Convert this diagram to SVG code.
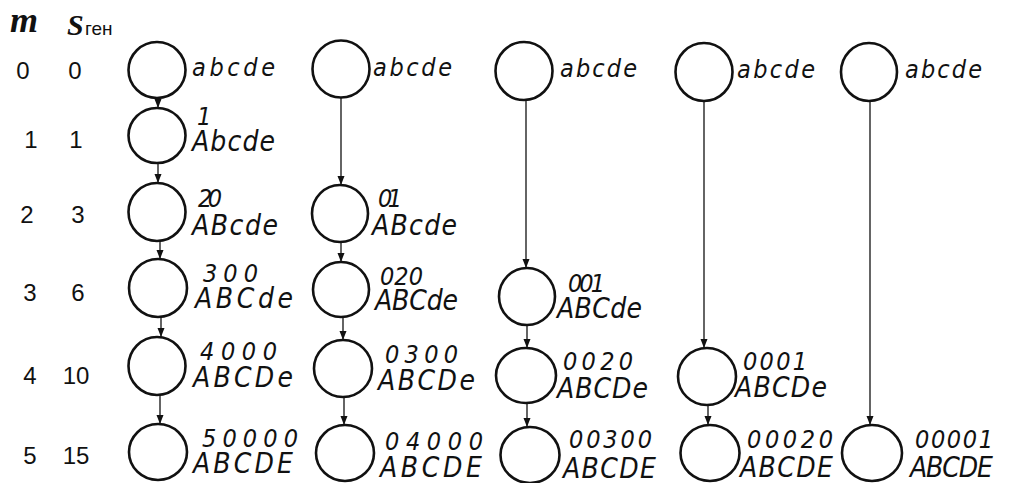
<svg xmlns="http://www.w3.org/2000/svg" width="1009" height="483" viewBox="0 0 1009 483">
<style>
.bg{fill:#fff}
.n{fill:none;stroke:#111;stroke-width:2.6}
.c{stroke:#111;stroke-width:1.3;fill:none}
.lbl{font-family:"Liberation Sans",Arial,sans-serif;font-size:24px;fill:#111;text-anchor:middle}
.t{font-family:"DejaVu Sans Condensed","Liberation Sans Narrow","Liberation Sans",sans-serif;font-style:italic;fill:#111}
.lo{font-size:25px}
.up{font-size:28px}
.dg{font-size:25px}
</style>
<defs>
<marker id="ah" markerUnits="userSpaceOnUse" markerWidth="10" markerHeight="8" refX="9" refY="3.5" orient="auto">
<path d="M0,0 L9,3.5 L0,7 z" fill="#111"/>
</marker>
</defs>
<rect class="bg" x="0" y="0" width="1009" height="483"/>
<g id="header">
<text x="10" y="32" font-family="Liberation Serif,serif" font-weight="bold" font-style="italic" font-size="36" fill="#111">m</text>
<text x="67" y="35" font-family="Liberation Serif,serif" font-weight="bold" font-style="italic" font-size="30" fill="#111">S</text>
<text x="85" y="35" font-family="Liberation Sans,sans-serif" font-size="19" fill="#111">ген</text>
</g>
<g id="rowlabels">
<text class="lbl" x="23" y="79">0</text><text class="lbl" x="75" y="79">0</text>
<text class="lbl" x="31" y="148">1</text><text class="lbl" x="76" y="148">1</text>
<text class="lbl" x="27" y="223">2</text><text class="lbl" x="78" y="223">3</text>
<text class="lbl" x="30" y="301">3</text><text class="lbl" x="78" y="301">6</text>
<text class="lbl" x="30" y="384">4</text><text class="lbl" x="76" y="384">10</text>
<text class="lbl" x="30" y="464">5</text><text class="lbl" x="76" y="464">15</text>
</g>
<g id="connectors">
<line class="c" x1="158" y1="98" x2="158" y2="108" marker-end="url(#ah)"/>
<line class="c" x1="158" y1="163" x2="158" y2="183" marker-end="url(#ah)"/>
<line class="c" x1="160" y1="241" x2="160" y2="259" marker-end="url(#ah)"/>
<line class="c" x1="161" y1="317" x2="161" y2="337" marker-end="url(#ah)"/>
<line class="c" x1="160" y1="395" x2="160" y2="424" marker-end="url(#ah)"/>
<line class="c" x1="341" y1="98" x2="341" y2="185" marker-end="url(#ah)"/>
<line class="c" x1="341" y1="242" x2="341" y2="262" marker-end="url(#ah)"/>
<line class="c" x1="343" y1="317" x2="343" y2="340" marker-end="url(#ah)"/>
<line class="c" x1="344" y1="397" x2="344" y2="425" marker-end="url(#ah)"/>
<line class="c" x1="526" y1="100" x2="526" y2="268" marker-end="url(#ah)"/>
<line class="c" x1="527" y1="325" x2="527" y2="348" marker-end="url(#ah)"/>
<line class="c" x1="527" y1="403" x2="527" y2="427" marker-end="url(#ah)"/>
<line class="c" x1="704" y1="101" x2="704" y2="348" marker-end="url(#ah)"/>
<line class="c" x1="708" y1="405" x2="708" y2="425" marker-end="url(#ah)"/>
<line class="c" x1="870" y1="101" x2="870" y2="425" marker-end="url(#ah)"/>
</g>
<g id="n_c1r0"><ellipse class="n" cx="157" cy="70" rx="28.5" ry="28"/><text class="t lo" x="192" y="76" textLength="83" lengthAdjust="spacing">abcde</text></g>
<g id="n_c2r0"><ellipse class="n" cx="341" cy="69" rx="28.5" ry="28.5"/><text class="t lo" x="373" y="76" textLength="79" lengthAdjust="spacing">abcde</text></g>
<g id="n_c3r0"><ellipse class="n" cx="524" cy="71" rx="28.5" ry="29"/><text class="t lo" x="560" y="77" textLength="77" lengthAdjust="spacing">abcde</text></g>
<g id="n_c4r0"><ellipse class="n" cx="704" cy="72" rx="28.5" ry="29"/><text class="t lo" x="737" y="78" textLength="78" lengthAdjust="spacing">abcde</text></g>
<g id="n_c5r0"><ellipse class="n" cx="869" cy="72" rx="28" ry="29"/><text class="t lo" x="905" y="78" textLength="77" lengthAdjust="spacing">abcde</text></g>
<g id="n_c1r1"><ellipse class="n" cx="157" cy="135.5" rx="28.5" ry="27.5"/><text class="t"><tspan class="dg" x="197" y="125">1</tspan><tspan class="up" x="192" y="151" textLength="83" lengthAdjust="spacing">Abcde</tspan></text></g>
<g id="n_c1r2"><ellipse class="n" cx="157" cy="212" rx="28.5" ry="29"/><text class="t"><tspan class="dg" x="198" y="207" textLength="24" lengthAdjust="spacing">20</tspan><tspan class="up" x="192" y="235" textLength="86" lengthAdjust="spacing">ABcde</tspan></text></g>
<g id="n_c2r2"><ellipse class="n" cx="340" cy="213.5" rx="28" ry="28.5"/><text class="t"><tspan class="dg" x="378" y="207" textLength="24" lengthAdjust="spacing">01</tspan><tspan class="up" x="372" y="235" textLength="85" lengthAdjust="spacing">ABcde</tspan></text></g>
<g id="n_c1r3"><ellipse class="n" cx="158" cy="288" rx="29" ry="29"/><text class="t"><tspan class="dg" x="203" y="282" textLength="55" lengthAdjust="spacing">300</tspan><tspan class="up" x="195" y="308" textLength="98" lengthAdjust="spacing">ABCde</tspan></text></g>
<g id="n_c2r3"><ellipse class="n" cx="341" cy="289.5" rx="28" ry="27.5"/><text class="t"><tspan class="dg" x="380" y="285" textLength="43" lengthAdjust="spacing">020</tspan><tspan class="up" x="375" y="310" textLength="83" lengthAdjust="spacing">ABCde</tspan></text></g>
<g id="n_c3r3"><ellipse class="n" cx="527" cy="296.5" rx="28" ry="28.5"/><text class="t"><tspan class="dg" x="568" y="292" textLength="37" lengthAdjust="spacing">001</tspan><tspan class="up" x="557" y="318" textLength="85" lengthAdjust="spacing">ABCde</tspan></text></g>
<g id="n_c1r4"><ellipse class="n" cx="157" cy="366" rx="28.5" ry="29"/><text class="t"><tspan class="dg" x="200" y="360" textLength="77" lengthAdjust="spacing">4000</tspan><tspan class="up" x="193" y="387" textLength="100" lengthAdjust="spacing">ABCDe</tspan></text></g>
<g id="n_c2r4"><ellipse class="n" cx="343" cy="368.5" rx="29" ry="28.5"/><text class="t"><tspan class="dg" x="385" y="363" textLength="73" lengthAdjust="spacing">0300</tspan><tspan class="up" x="378" y="390" textLength="97" lengthAdjust="spacing">ABCDe</tspan></text></g>
<g id="n_c3r4"><ellipse class="n" cx="526" cy="375.5" rx="30" ry="27.5"/><text class="t"><tspan class="dg" x="563" y="370" textLength="70" lengthAdjust="spacing">0020</tspan><tspan class="up" x="557" y="398" textLength="91" lengthAdjust="spacing">ABCDe</tspan></text></g>
<g id="n_c4r4"><ellipse class="n" cx="707" cy="376.5" rx="29" ry="28.5"/><text class="t"><tspan class="dg" x="743" y="370" textLength="64" lengthAdjust="spacing">0001</tspan><tspan class="up" x="735" y="397" textLength="92" lengthAdjust="spacing">ABCDe</tspan></text></g>
<g id="n_c1r5"><ellipse class="n" cx="158" cy="452" rx="29" ry="28"/><text class="t"><tspan class="dg" x="202" y="447" textLength="96" lengthAdjust="spacing">50000</tspan><tspan class="up" x="193" y="473" textLength="100" lengthAdjust="spacing">ABCDE</tspan></text></g>
<g id="n_c2r5"><ellipse class="n" cx="345" cy="453" rx="29" ry="28"/><text class="t"><tspan class="dg" x="385" y="450" textLength="98" lengthAdjust="spacing">04000</tspan><tspan class="up" x="380" y="477" textLength="102" lengthAdjust="spacing">ABCDE</tspan></text></g>
<g id="n_c3r5"><ellipse class="n" cx="530" cy="455" rx="29.5" ry="28"/><text class="t"><tspan class="dg" x="569" y="448" textLength="83" lengthAdjust="spacing">00300</tspan><tspan class="up" x="563" y="478" textLength="93" lengthAdjust="spacing">ABCDE</tspan></text></g>
<g id="n_c4r5"><ellipse class="n" cx="710" cy="453" rx="29.5" ry="28"/><text class="t"><tspan class="dg" x="747" y="448" textLength="86" lengthAdjust="spacing">00020</tspan><tspan class="up" x="740" y="477" textLength="93" lengthAdjust="spacing">ABCDE</tspan></text></g>
<g id="n_c5r5"><ellipse class="n" cx="872" cy="453" rx="30" ry="28"/><text class="t"><tspan class="dg" x="915" y="448" textLength="78" lengthAdjust="spacing">00001</tspan><tspan class="up" x="910" y="477" textLength="83" lengthAdjust="spacing">ABCDE</tspan></text></g>
</svg>
